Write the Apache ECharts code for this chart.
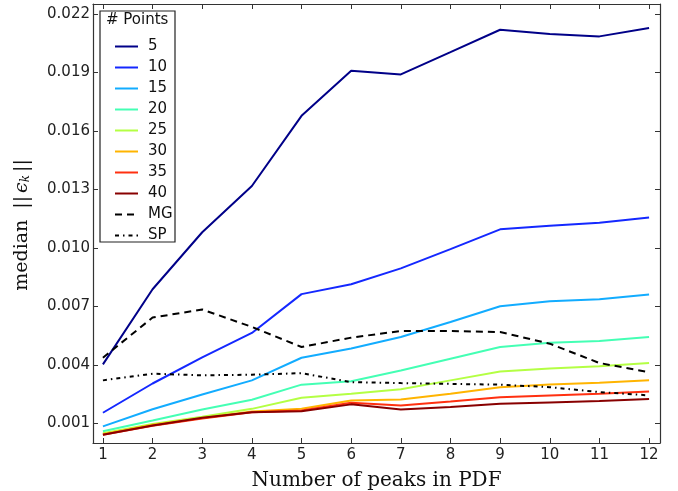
<!DOCTYPE html>
<html>
<head>
<meta charset="utf-8">
<script src="https://cdn.jsdelivr.net/npm/echarts@6/dist/echarts.min.js"></script>
<style>
  html, body { margin: 0; padding: 0; background: #fff; }
  #chart { width: 678px; height: 491px; }
</style>
</head>
<body>
<div id="chart"></div>
<script>
// Number of peaks in the PDF (x axis)
const peaks = [1, 2, 3, 4, 5, 6, 7, 8, 9, 10, 11, 12];

// Median error for each sample size
const pts5  = [0.00403, 0.00788, 0.01080, 0.01317, 0.01677, 0.01908, 0.01889, 0.02003, 0.02118, 0.02096, 0.02084, 0.02127];
const pts10 = [0.00155, 0.00305, 0.00439, 0.00564, 0.00763, 0.00814, 0.00895, 0.00994, 0.01095, 0.01113, 0.01129, 0.01156];
const pts15 = [0.00085, 0.00173, 0.00249, 0.00321, 0.00437, 0.00484, 0.00543, 0.00620, 0.00701, 0.00727, 0.00737, 0.00761];
const pts20 = [0.00060, 0.00115, 0.00172, 0.00222, 0.00299, 0.00317, 0.00372, 0.00432, 0.00492, 0.00514, 0.00523, 0.00543];
const pts25 = [0.00050, 0.00098, 0.00135, 0.00175, 0.00232, 0.00253, 0.00275, 0.00321, 0.00366, 0.00382, 0.00393, 0.00410];
const pts30 = [0.00045, 0.00093, 0.00128, 0.00162, 0.00175, 0.00218, 0.00223, 0.00253, 0.00286, 0.00300, 0.00309, 0.00321];
const pts35 = [0.00042, 0.00088, 0.00125, 0.00158, 0.00167, 0.00206, 0.00192, 0.00213, 0.00235, 0.00244, 0.00253, 0.00264];
const pts40 = [0.00042, 0.00090, 0.00129, 0.00158, 0.00163, 0.00198, 0.00172, 0.00184, 0.00201, 0.00208, 0.00215, 0.00225];
const mg    = [0.00437, 0.00643, 0.00684, 0.00595, 0.00492, 0.00540, 0.00574, 0.00574, 0.00569, 0.00509, 0.00410, 0.00363];
const sp    = [0.00321, 0.00355, 0.00347, 0.00350, 0.00358, 0.00312, 0.00307, 0.00303, 0.00299, 0.00286, 0.00261, 0.00244];

// Tick labels
const xTicks = [1, 2, 3, 4, 5, 6, 7, 8, 9, 10, 11, 12];
const yTicks = [0.001, 0.004, 0.007, 0.010, 0.013, 0.016, 0.019, 0.022];

const seriesDefs = [
  { name: '5',  data: pts5,  color: '#000088', type: 'solid' },
  { name: '10', data: pts10, color: '#1428ff', type: 'solid' },
  { name: '15', data: pts15, color: '#12acff', type: 'solid' },
  { name: '20', data: pts20, color: '#44ffb4', type: 'solid' },
  { name: '25', data: pts25, color: '#b4ff44', type: 'solid' },
  { name: '30', data: pts30, color: '#ffb400', type: 'solid' },
  { name: '35', data: pts35, color: '#ff3010', type: 'solid' },
  { name: '40', data: pts40, color: '#880000', type: 'solid' },
  { name: 'MG', data: mg,    color: '#000000', type: [7, 5] },
  { name: 'SP', data: sp,    color: '#000000', type: [4, 4, 1.5, 4] }
];

const tickFont = { fontFamily: 'DejaVu Sans', fontSize: 15, color: '#222' };
const serif = 'DejaVu Serif';

const chart = echarts.init(document.getElementById('chart'), null, { renderer: 'canvas' });

const frameAxisX = (pos, show) => ({
  type: 'value', position: pos, min: 0.8, max: 12.22,
  axisLine: { show: true, onZero: false, lineStyle: { color: '#333', width: 1.2 } },
  axisTick: { show: true, inside: true, length: 5, customValues: xTicks, lineStyle: { color: '#333' } },
  axisLabel: show ? Object.assign({ customValues: xTicks, margin: 5 }, tickFont) : { show: false },
  splitLine: { show: false }
});
const frameAxisY = (pos, show) => ({
  type: 'value', position: pos, min: 0, max: 0.0225,
  axisLine: { show: true, onZero: false, lineStyle: { color: '#333', width: 1.2 } },
  axisTick: { show: true, inside: true, length: 5, customValues: yTicks, lineStyle: { color: '#333' } },
  axisLabel: show ? Object.assign({ customValues: yTicks, margin: 3, formatter: v => v.toFixed(3) }, tickFont) : { show: false },
  splitLine: { show: false }
});

const xMain = frameAxisX('bottom', true);
xMain.name = 'Number of peaks in PDF';
xMain.nameLocation = 'middle';
xMain.nameGap = 28;
xMain.nameTextStyle = { fontFamily: serif, fontSize: 20, color: '#111' };

const yMain = frameAxisY('left', true);
yMain.name = '{t|median}{b|||}{e|ϵ}{s|k}{b|||}';
yMain.nameLocation = 'middle';
yMain.nameGap = 61;
yMain.nameTextStyle = {
  rich: {
    t: { fontFamily: serif, fontSize: 19, color: '#111', padding: [0, 8, 0, 0] },
    b: { fontFamily: serif, fontSize: 19, color: '#111', padding: [0, 3, 0, 3] },
    e: { fontFamily: serif, fontSize: 19, fontStyle: 'italic', color: '#111' },
    s: { fontFamily: serif, fontSize: 12, fontStyle: 'italic', color: '#111', verticalAlign: 'bottom', padding: [8, 0, 0, 0] }
  }
};

chart.setOption({
  animation: false,
  backgroundColor: '#fff',
  grid: { left: 93, right: 18, top: 4, bottom: 48, containLabel: false, outerBoundsMode: 'none' },
  xAxis: [xMain, frameAxisX('top', false)],
  yAxis: [yMain, frameAxisY('right', false)],
  legend: {
    orient: 'vertical',
    left: 109,
    top: 34,
    itemWidth: 23,
    itemHeight: 10,
    itemGap: 6,
    itemStyle: { opacity: 0 },
    data: seriesDefs.map(d => d.name),
    textStyle: { fontFamily: 'DejaVu Sans', fontSize: 15, color: '#111', padding: [0, 0, 0, 5] }
  },
  graphic: [
    { type: 'rect', shape: { x: 100, y: 11, width: 75, height: 231 }, style: { fill: '#fff', stroke: '#222', lineWidth: 1.2 }, z: 0 },
    { type: 'text', left: 106, top: 13, style: { text: '# Points', fontFamily: 'DejaVu Sans', fontSize: 15, fill: '#111' }, z: 10 }
  ],
  series: seriesDefs.map(d => ({
    name: d.name,
    type: 'line',
    xAxisIndex: 0,
    yAxisIndex: 0,
    showSymbol: false,
    symbol: 'none',
    data: peaks.map((p, i) => [p, d.data[i]]),
    lineStyle: { color: d.color, width: 2, type: d.type },
    itemStyle: { color: d.color },
    z: 3
  }))
});
</script>
</body>
</html>
